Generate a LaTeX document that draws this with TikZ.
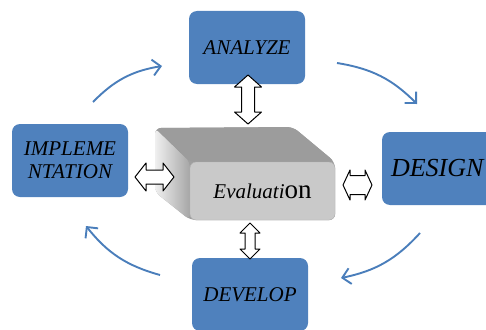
\documentclass[tikz,border=0pt]{standalone}
\usepackage{fontspec}
\setmainfont{Liberation Serif}
\usetikzlibrary{arrows.meta}
\definecolor{boxblue}{HTML}{4F81BD}
\definecolor{flowblue}{HTML}{4A7EBB}
\tikzset{every path/.style={line join=round}, phase/.style={fill=boxblue, rounded corners=8pt, minimum width=116pt, minimum height=73pt, inner sep=0pt, font=\fontsize{21}{23}\selectfont\itshape, align=center},
 link/.style={draw=black, fill=white, line width=1pt},
 flow/.style={draw=flowblue, line width=1.9pt, -{Straight Barb[length=8pt,width=16pt,line width=1.9pt]}},
 % hollow two-headed arrow: #1 length, #2 half shaft, #3 half head, #4 head length
 pics/twohead/.style n args={4}{code={
   \draw[link] (-#1/2,0) -- (-#1/2+#4,-#3) -- (-#1/2+#4,-#2) -- (#1/2-#4,-#2) -- (#1/2-#4,-#3) -- (#1/2,0)
     -- (#1/2-#4,#3) -- (#1/2-#4,#2) -- (-#1/2+#4,#2) -- (-#1/2+#4,#3) -- cycle;}}}

\begin{document}
\begin{tikzpicture}[x=1pt,y=-1pt]
  \useasboundingbox (0,0) rectangle (486,329);
  % block behind the evaluation face
  \fill[gray!75, rounded corners=6pt] (155,128) -- (293,127) -- (335,162) -- (335,220) -- (190,220) -- (155,192) -- cycle;
  \shade[left color=gray!12, right color=gray!70, rounded corners=6pt] (155,128) -- (190,162) -- (190,220) -- (155,192) -- cycle;
  \fill[gray!78, rounded corners=6pt] (155,128) -- (293,127) -- (335,162) -- (190,162) -- cycle;
  \node (eval) [fill=gray!42, draw=gray!60, rounded corners=6pt, minimum width=145pt, minimum height=58pt, inner sep=0pt] at (262.5,191)
    {\fontsize{21}{23}\selectfont\itshape Evaluati\fontsize{27}{30}\selectfont\upshape on};

  \node (analyze) [phase] at (247,47.5) {ANALYZE};
  \node (impl) [phase] at (70,160.5) {IMPLEME\\NTATION};
  \node (design) [phase, font=\fontsize{26}{30}\selectfont\itshape, text width=98pt, align=left] at (440,168.5) {DESIGN};
  \node (develop) [phase] at (250,294.5) {DEVELOP};

  \pic[rotate=90] (ea) at (248,99.5) {twohead={49}{6.5}{13.5}{12}};
  \pic[rotate=90] (ed) at (250,241) {twohead={36}{5}{10}{10}};
  \pic (ei) at (154.5,177) {twohead={39}{7}{14}{11}};
  \pic (es) at (357.5,185) {twohead={29}{9.5}{15}{7}};

  \coordinate (c1) at (93,102);  \coordinate (c2) at (162,66);
  \coordinate (c3) at (337,63);  \coordinate (c4) at (417,104);
  \coordinate (c5) at (420,233); \coordinate (c6) at (341,278);
  \coordinate (c7) at (160,275); \coordinate (c8) at (86,226);
  \draw[flow] (c1) to[bend left=18] (c2);
  \draw[flow] (c3) to[bend left=18] (c4);
  \draw[flow] (c5) to[bend left=18] (c6);
  \draw[flow] (c7) to[bend left=18] (c8);
 \end{tikzpicture}
\end{document}
